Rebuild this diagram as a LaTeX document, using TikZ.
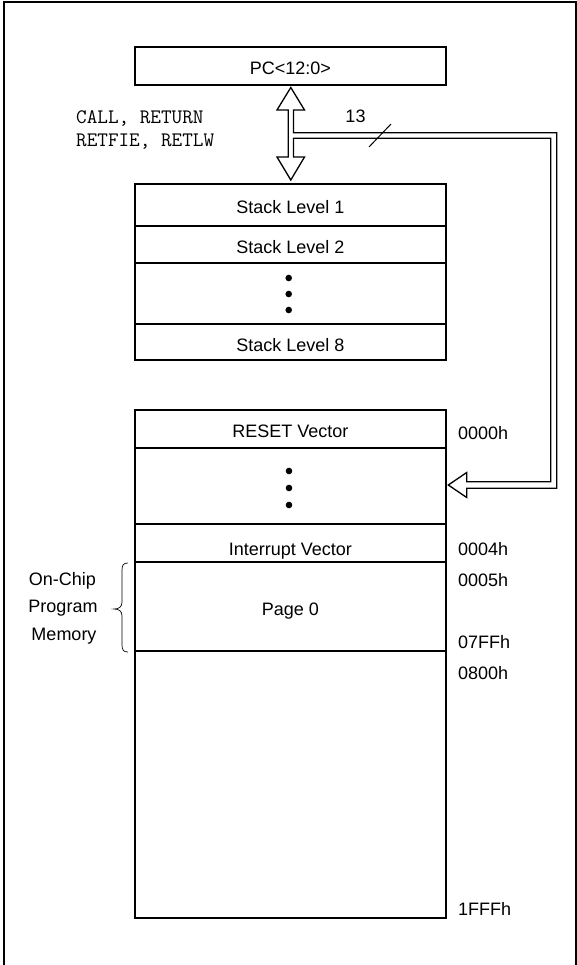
\documentclass[tikz,border=0pt]{standalone}
\usepackage{fontspec}
\setmainfont{Liberation Sans}
\usetikzlibrary{calc}
\begin{document}
\begin{tikzpicture}[x=1pt,y=-1pt,
  rowbox/.style={draw, line width=2pt, minimum width=311pt, inner sep=0pt,
    text height=18pt, text depth=0pt, font=\fontsize{18}{21}\selectfont, anchor=center},
  addr/.style={anchor=west, inner sep=0pt, font=\fontsize{18}{21}\selectfont},
  side/.style={anchor=center, inner sep=0pt, font=\fontsize{18}{21}\selectfont},
  mono/.style={anchor=west, inner sep=0pt, font=\ttfamily\fontsize{20.6}{24}\selectfont},
  dotmark/.style={fill=black, circle, inner sep=0pt, minimum size=6.6pt},
  hollow/.style={draw, fill=white, line width=1.3pt, line join=miter}]
\useasboundingbox (0,0) rectangle (577,965);
% frame
\draw[line width=2pt] (4,966) -- (4,2) -- (575.5,2) -- (575.5,966);

% PC
\node[rowbox, minimum height=38pt] (pc) at (290.3,66) {PC<12:0>};

% stack
\node[rowbox, minimum height=41.7pt] (s1) at (290.3,204.85) {Stack Level 1};
\node[rowbox, minimum height=37pt] (s2) at (290.3,244.2) {Stack Level 2};
\node[rowbox, minimum height=61.6pt] (s3) at (290.3,293.5) {};
\node[rowbox, minimum height=35.7pt] (s8) at (290.3,342.15) {Stack Level 8};
\node[dotmark] (sd1) at (288.7,278) {};
\node[dotmark] (sd2) at (288.7,294) {};
\node[dotmark] (sd3) at (288.7,310) {};

% program memory
\node[rowbox, minimum height=37.7pt] (m1) at (290.3,428.85) {RESET Vector};
\node[rowbox, minimum height=76.6pt] (m2) at (290.3,486) {};
\node[rowbox, minimum height=38pt, text height=25pt] (m3) at (290.3,543.3) {Interrupt Vector};
\node[rowbox, minimum height=88.4pt] (m4) at (290.3,606.5) {Page 0};
\node[rowbox, minimum height=267pt] (m5) at (290.3,784.2) {};
\node[dotmark] (md1) at (289,471) {};
\node[dotmark] (md2) at (289,488) {};
\node[dotmark] (md3) at (289,505) {};

% addresses
\node[addr] (a0) at (458,433) {0000h};
\node[addr] (a4) at (458,549.5) {0004h};
\node[addr] (a5) at (458,580) {0005h};
\node[addr] (a7) at (458,642) {07FFh};
\node[addr] (a8) at (458,673) {0800h};
\node[addr] (af) at (458,909) {1FFFh};

% instructions
\node[mono] (ins1) at (76,118) {CALL, RETURN};
\node[mono] (ins2) at (76,142) {RETFIE, RETLW};

% hollow bus arrows
\draw[hollow] (288.2,157) -- (288.2,110) -- (277,110) -- ($(pc.south)+(0.5,1.5)$)
  -- (304.5,110) -- (293.4,110) -- (293.4,132.8) -- (556.7,132.8) -- (556.7,488.3)
  -- (466.7,488.3) -- (466.7,497.5) -- ($(m2.east)+(1.5,-1)$) -- (466.7,472.5)
  -- (466.7,481.7) -- (550.7,481.7) -- (550.7,138.3) -- (293.4,138.3) -- (293.4,157)
  -- (304.5,157) -- ($(s1.north)+(0.5,-3)$) -- (277,157) -- cycle;

% bus width
\coordinate (sl1) at (369,147);
\coordinate (sl2) at (391,124);
\draw[line width=1pt] (sl1) -- (sl2);
\node[side] (w13) at (355.5,116) {13};

% brace and label
\draw[line width=0.7pt] (128,563) .. controls (123.5,563) and (122,565) .. (122,570)
  -- (122,602) .. controls (122,607) and (119,609) .. (114,609)
  .. controls (119,609) and (122,611) .. (122,616)
  -- (122,645) .. controls (122,650) and (123.5,652) .. (128,652);
\node[side] (oc1) at (62.5,581) {On-Chip};
\node[side] (oc2) at (63,608) {Program};
\node[side] (oc3) at (64,636) {Memory};
\end{tikzpicture}
\end{document}
